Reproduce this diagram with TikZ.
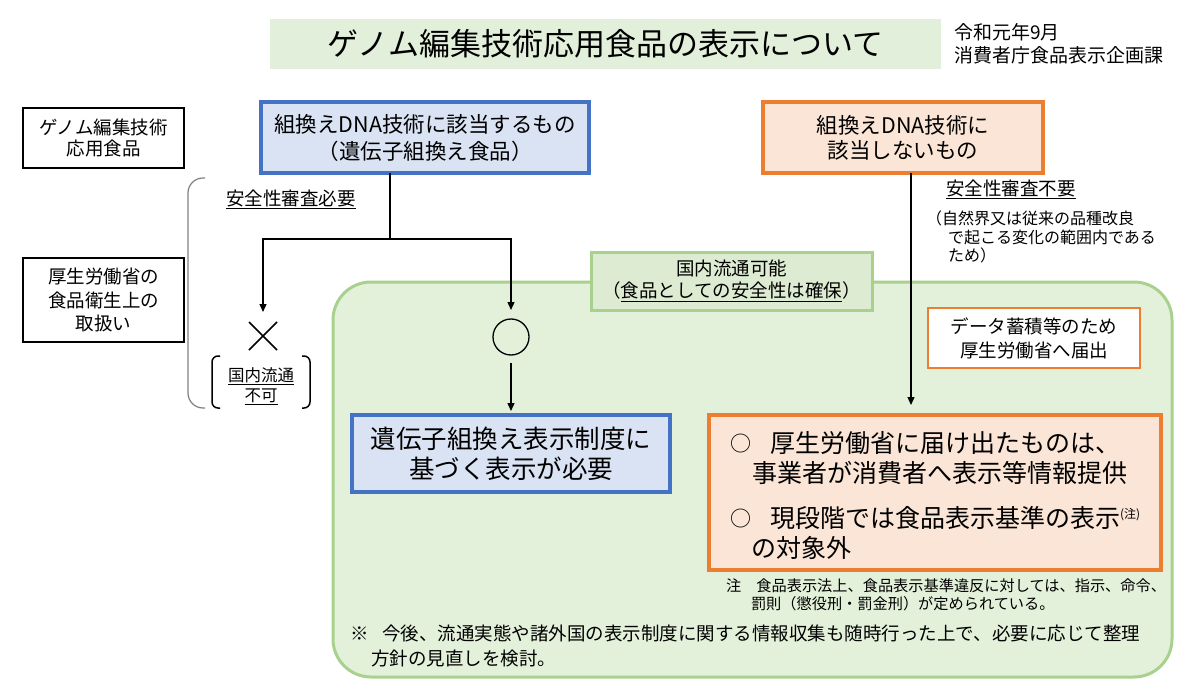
\documentclass[tikz,border=0pt]{standalone}
\usepackage{fontspec}
\setmainfont{Noto Sans CJK JP}
\usetikzlibrary{arrows.meta,calc}
\definecolor{bluebd}{HTML}{4472C4}
\definecolor{bluefill}{HTML}{DAE3F3}
\definecolor{orbd}{HTML}{ED7D31}
\definecolor{orfill}{HTML}{FBE5D6}
\definecolor{grbd}{HTML}{A9D18E}
\definecolor{grfill}{HTML}{E3F1DA}
\definecolor{grlab}{HTML}{DCEBD1}
\definecolor{titlefill}{HTML}{E2EFDA}
\newcommand\fs[2]{\fontsize{#1}{#2}\selectfont}
\newcommand\uline[1]{\vtop{\hbox{#1}\kern1.2pt\hrule height 1pt}}
\newcommand\bul{\raisebox{1pt}{\fs{21}{21}○}}
\begin{document}
\begin{tikzpicture}[x=1pt,y=-1pt,
  every node/.style={inner sep=0pt, outer sep=0pt},
  plainbox/.style={draw=black, line width=1.2pt, align=center},
  bluebox/.style={draw=bluebd, fill=bluefill, line width=3.5pt, align=center},
  orbox/.style={draw=orbd, fill=orfill, line width=3.5pt, align=center},
  conn/.style={line width=1.3pt, draw=black},
  arr/.style={conn, -{Triangle[length=8pt,width=7pt]}},
  txt/.style={anchor=base west},
]
\useasboundingbox (0,0) rectangle (1200,685);

% title
\node[fill=titlefill, minimum width=671pt, minimum height=50pt] (title) at (605.5,44) {\fs{31}{31}ゲノム編集技術応用食品の表示について};
\node[anchor=west, align=left, font=\fs{19}{23}] (date) at (954,43.5) {令和元年9月\\消費者庁食品表示企画課};

% left labels
\node[plainbox, minimum width=161pt, minimum height=60pt, font=\fs{18.5}{21.5}] (genome) at (103.5,138) {ゲノム編集技術\\応用食品};
\node[plainbox, minimum width=161pt, minimum height=84pt, font=\fs{18.5}{23.5}] (mhlw) at (103.5,300) {厚生労働省の\\食品衛生上の\\取扱い};
\draw[gray, line width=1.2pt, rounded corners=15pt] (205,178) -- (188,178) -- (188,408) -- (205,408);

% top boxes
\node[bluebox, minimum width=328pt, minimum height=71pt, font=\fs{21.5}{27}] (gm) at (425,137.5) {組換えDNA技術に該当するもの\\（遺伝子組換え食品）};
\node[orbox, minimum width=280pt, minimum height=71pt, font=\fs{21.5}{25}] (nongm) at (903,137.5) {組換えDNA技術に\\該当しないもの};

% green area
\node[draw=grbd, fill=grfill, line width=3pt, rounded corners=38pt, minimum width=839pt, minimum height=395pt] (area) at (752.5,479.5) {};
\node[draw=grbd, fill=grlab, line width=3pt, minimum width=281pt, minimum height=58pt, align=center, font=\fs{18.5}{22}] (avail) at (731.5,281) {国内流通可能\\（\uline{食品としての安全性は確保}）};

% left branch
\node[txt, font=\fs{18.5}{18.5}] (req) at (226,205) {\uline{安全性審査必要}};
\coordinate (split) at (390,239);
\node[minimum size=28pt] (cross) at (263,336) {};
\draw[line width=1.5pt] (cross.north west) -- (cross.south east) (cross.north east) -- (cross.south west);
\node[align=center, font=\fs{16.5}{20}] (fuka) at (261,386) {\uline{国内流通}\\\uline{不可}};
\draw[line width=1.5pt, rounded corners=6pt] (220,356) -- (212,356) -- (212,408) -- (220,408);
\draw[line width=1.5pt, rounded corners=6pt] (302,356) -- (310,356) -- (310,408) -- (302,408);
\node[circle, draw, line width=1.3pt, minimum size=36pt] (ok) at (511,337) {};

\node[bluebox, minimum width=318pt, minimum height=77pt, font=\fs{25.5}{30}] (gmlabel) at (511,453.5) {遺伝子組換え表示制度に\\基づく表示が必要};

\draw[conn] (split |- gm.south) -- (split);
\draw[arr, shorten >=10pt] (split) -| (cross.north);
\draw[arr, shorten >=9pt] (split) -| (ok.north);
\draw[arr, shorten <=8pt, shorten >=4pt] (ok.south) -- (gmlabel.north);

% right branch
\node[txt, font=\fs{18.5}{18.5}] (unreq) at (946,195) {\uline{安全性審査不要}};
\node[txt, font=\fs{16}{16}] (r1) at (926,224) {（自然界又は従来の品種改良};
\node[txt, font=\fs{16}{16}] (r2) at (948,243) {で起こる変化の範囲内である};
\node[txt, font=\fs{16}{16}] (r3) at (948,261) {ため）};
\node[draw=orbd, fill=white, line width=2.5pt, minimum width=212pt, minimum height=60pt, align=center, font=\fs{18.5}{24}] (notify) at (1034,338) {データ蓄積等のため\\厚生労働省へ届出};

\node[orbox, minimum width=452pt, minimum height=155pt] (nglabel) at (935,492.5) {};
\node[txt, font=\fs{25}{25}] (o1) at (730,452) {\bul\hspace{19pt}厚生労働省に届け出たものは、};
\node[txt, font=\fs{25}{25}] (o2) at (752,482) {事業者が消費者へ表示等情報提供};
\node[txt, font=\fs{25}{25}] (o3) at (730,527) {\bul\hspace{19pt}現段階では食品表示基準の表示\raisebox{9pt}{\fs{12}{12}(注)}};
\node[txt, font=\fs{25}{25}] (o4) at (751,557) {の対象外};

\coordinate (ox) at (911,0);
\draw[arr, shorten >=10pt] (nongm.south -| ox) -- (nglabel.north -| ox);

% notes
\node[txt, font=\fs{15.2}{15.2}] (n1) at (726,591.7) {注　食品表示法上、食品表示基準違反に対しては、指示、命令、};
\node[txt, font=\fs{15.2}{15.2}] (n2) at (751,609.7) {罰則（懲役刑・罰金刑）が定められている。};
\node[txt, font=\fs{18.5}{18.5}] (s1) at (350,640) {※\hspace{14pt}今後、流通実態や諸外国の表示制度に関する情報収集も随時行った上で、必要に応じて整理};
\node[txt, font=\fs{18.5}{18.5}] (s2) at (371,665) {方針の見直しを検討。};
\end{tikzpicture}
\end{document}
